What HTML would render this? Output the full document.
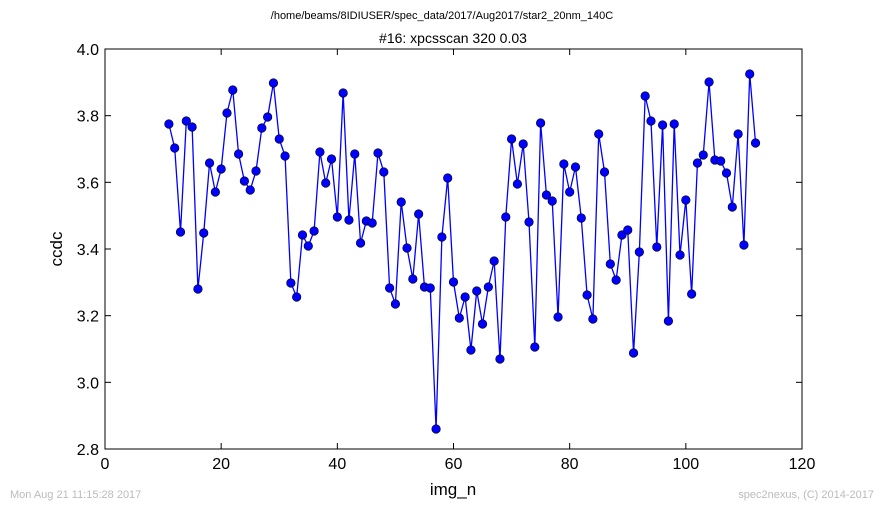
<!DOCTYPE html>
<html><head><meta charset="utf-8"><style>
html,body{margin:0;padding:0;background:#fff;}
svg{display:block;font-family:"Liberation Sans","DejaVu Sans",sans-serif;}
</style></head><body>
<svg id="chart" width="884" height="509" xmlns="http://www.w3.org/2000/svg">
<rect x="0" y="0" width="884" height="509" fill="#fff"/>
<text x="442" y="19" font-size="11" text-anchor="middle">/home/beams/8IDIUSER/spec_data/2017/Aug2017/star2_20nm_140C</text>
<text x="453" y="43" font-size="14" text-anchor="middle">#16: xpcsscan 320 0.03</text>
<g id="axes"></g>
<g id="series"></g>
<rect x="105" y="49" width="697" height="400" fill="none" stroke="#000" stroke-width="1"/>
<text x="453" y="495" font-size="17" text-anchor="middle">img_n</text>
<text transform="translate(62,249) rotate(-90)" font-size="17" text-anchor="middle">ccdc</text>
<text x="10" y="498" font-size="11" fill="#bbb">Mon Aug 21 11:15:28 2017</text>
<text x="874" y="498" font-size="11" fill="#bbb" text-anchor="end">spec2nexus, (C) 2014-2017</text>
</svg>
<script>
const xTicks = [0, 20, 40, 60, 80, 100, 120];
const yTicks = [2.8, 3.0, 3.2, 3.4, 3.6, 3.8, 4.0];
const xStart = 11;
const ccdc = [3.775,3.703,3.451,3.784,3.766,3.28,3.448,3.658,3.571,3.64,3.808,3.877,3.685,3.604,3.577,3.634,3.763,3.796,3.898,3.73,3.679,3.298,3.256,3.442,3.409,3.454,3.691,3.598,3.67,3.496,3.868,3.487,3.685,3.418,3.484,3.478,3.688,3.631,3.283,3.235,3.541,3.403,3.31,3.505,3.286,3.283,2.86,3.436,3.613,3.301,3.193,3.256,3.097,3.274,3.175,3.286,3.364,3.07,3.496,3.73,3.595,3.715,3.481,3.106,3.778,3.562,3.544,3.196,3.655,3.571,3.646,3.493,3.262,3.19,3.745,3.631,3.355,3.307,3.442,3.457,3.088,3.391,3.859,3.784,3.406,3.772,3.184,3.775,3.382,3.547,3.265,3.658,3.682,3.901,3.667,3.664,3.628,3.526,3.745,3.412,3.925,3.718];

const NS = "http://www.w3.org/2000/svg";
const X0 = 105, X1 = 802, Y0 = 449, Y1 = 49;
function sx(v){ return X0 + (v - 0) / (120 - 0) * (X1 - X0); }
function sy(v){ return Y0 - (v - 2.8) / (4.0 - 2.8) * (Y0 - Y1); }
function mk(tag, attrs, parent){ const e = document.createElementNS(NS, tag); for (const k in attrs) e.setAttribute(k, attrs[k]); parent.appendChild(e); return e; }

const axes = document.getElementById('axes');
xTicks.forEach(t => {
  const x = sx(t);
  const l1 = mk('line', {x1:x, x2:x, y1:Y0, y2:Y0-6, stroke:'#000'}, axes);
  
  
  const l2 = mk('line', {x1:x, x2:x, y1:Y1, y2:Y1+6, stroke:'#000'}, axes);
  
  
  const tx = mk('text', {x:x, y:Y0+20, 'font-size':16, 'text-anchor':'middle'}, axes);
  tx.textContent = t;
  
  
});
yTicks.forEach(t => {
  const y = sy(t);
  const l1 = mk('line', {x1:X0, x2:X0+6, y1:y, y2:y, stroke:'#000'}, axes);
  
  
  const l2 = mk('line', {x1:X1, x2:X1-6, y1:y, y2:y, stroke:'#000'}, axes);
  
  
  const tx = mk('text', {x:X0-6, y:y+6, 'font-size':16, 'text-anchor':'end'}, axes);
  tx.textContent = t.toFixed(1);
  
  
});

const series = document.getElementById('series');
const pts = ccdc.map((v, i) => sx(xStart + i).toFixed(2) + ',' + sy(v).toFixed(2)).join(' ');
const line = mk('polyline', {points:pts, fill:'none', stroke:'#0000ff', 'stroke-width':1.3}, series);


ccdc.forEach((v, i) => {
  const c = mk('circle', {cx:sx(xStart + i), cy:sy(v), r:4.3, fill:'#0000ff', stroke:'#000', 'stroke-width':0.6}, series);
  
  
});
</script>
</body></html>
